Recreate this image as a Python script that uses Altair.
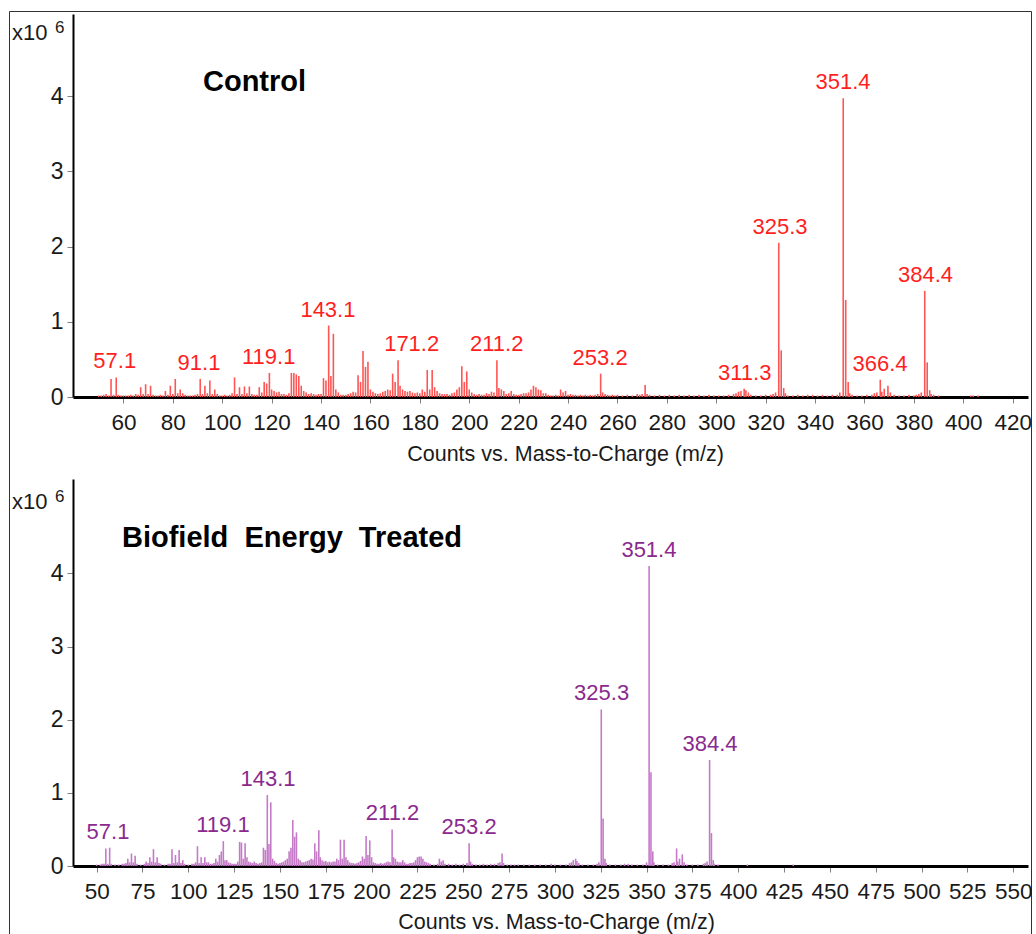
import altair as alt
import pandas as pd

# ---------------- data (intensities in units of 10^6 counts) ----------------
control_peaks = [
    (50, 0.02), (51, 0.02), (52, 0.03), (53, 0.04), (54, 0.02), (55, 0.24), (56, 0.03), (57.1, 0.26), (58, 0.03), (59, 0.02),
    (60, 0.02), (61, 0.02), (62, 0.02), (63, 0.03), (64, 0.02), (65, 0.04), (66, 0.03), (67, 0.13), (68, 0.04), (69, 0.17),
    (70, 0.04), (71, 0.15), (72, 0.03), (73, 0.02), (74, 0.02), (75, 0.03), (76, 0.02), (77, 0.08), (78, 0.03), (79, 0.15),
    (80, 0.04), (81, 0.24), (82, 0.05), (83, 0.10), (84, 0.05), (85, 0.03), (86, 0.02), (87, 0.02), (88, 0.02), (89, 0.03),
    (90, 0.04), (91.1, 0.24), (92, 0.04), (93, 0.15), (94, 0.05), (95, 0.22), (96, 0.04), (97, 0.10), (98, 0.04), (99, 0.02),
    (100, 0.02), (101, 0.03), (102, 0.02), (103, 0.03), (104, 0.05), (105, 0.26), (106, 0.04), (107, 0.13), (108, 0.04), (109, 0.14),
    (110, 0.05), (111, 0.14), (112, 0.04), (113, 0.03), (114, 0.03), (115, 0.13), (116, 0.06), (117, 0.20), (118, 0.18), (119.1, 0.32),
    (120, 0.10), (121, 0.08), (122, 0.06), (123, 0.07), (124, 0.04), (125, 0.04), (126, 0.03), (127, 0.05), (128, 0.32), (129, 0.32),
    (130, 0.30), (131, 0.28), (132, 0.15), (133, 0.08), (134, 0.06), (135, 0.04), (136, 0.05), (137, 0.04), (138, 0.03), (139, 0.04),
    (140, 0.04), (141, 0.25), (142, 0.22), (143.1, 0.95), (144, 0.28), (145, 0.84), (146, 0.10), (147, 0.06), (148, 0.03), (149, 0.03),
    (150, 0.03), (151, 0.04), (152, 0.05), (153, 0.07), (154, 0.06), (155, 0.29), (156, 0.20), (157, 0.61), (158, 0.40), (159, 0.47),
    (160, 0.10), (161, 0.07), (162, 0.05), (163, 0.04), (164, 0.05), (165, 0.07), (166, 0.08), (167, 0.10), (168, 0.09), (169, 0.31),
    (170, 0.20), (171.2, 0.49), (172, 0.15), (173, 0.10), (174, 0.08), (175, 0.07), (176, 0.08), (177, 0.06), (178, 0.05), (179, 0.06),
    (180, 0.05), (181, 0.10), (182, 0.07), (183, 0.36), (184, 0.10), (185, 0.36), (186, 0.13), (187, 0.08), (188, 0.05), (189, 0.04),
    (190, 0.04), (191, 0.04), (192, 0.03), (193, 0.05), (194, 0.06), (195, 0.10), (196, 0.13), (197, 0.41), (198, 0.20), (199, 0.34),
    (200, 0.10), (201, 0.06), (202, 0.04), (203, 0.03), (204, 0.04), (205, 0.03), (206, 0.03), (207, 0.05), (208, 0.04), (209, 0.07),
    (210, 0.06), (211.2, 0.49), (212, 0.12), (213, 0.10), (214, 0.08), (215, 0.04), (216, 0.05), (217, 0.08), (218, 0.04), (219, 0.03),
    (220, 0.03), (221, 0.04), (222, 0.05), (223, 0.05), (224, 0.06), (225, 0.10), (226, 0.15), (227, 0.13), (228, 0.10), (229, 0.09),
    (230, 0.05), (231, 0.05), (232, 0.03), (233, 0.02), (234, 0.02), (235, 0.03), (236, 0.02), (237, 0.10), (238, 0.06), (239, 0.08),
    (240, 0.03), (241, 0.04), (242, 0.03), (243, 0.03), (244, 0.02), (245, 0.03), (246, 0.02), (247, 0.03), (248, 0.02), (249, 0.03),
    (250, 0.02), (251, 0.03), (252, 0.04), (253.2, 0.31), (254, 0.06), (255, 0.04), (256, 0.03), (257, 0.02), (258, 0.03), (259, 0.02),
    (260, 0.03), (262, 0.02), (264, 0.03), (266, 0.02), (268, 0.04), (269, 0.03), (270, 0.04), (271.2, 0.16), (272, 0.04), (273, 0.03),
    (275, 0.02), (277, 0.03), (279, 0.02), (281, 0.03), (283, 0.02), (285, 0.03), (287, 0.02), (289, 0.03), (291, 0.02), (293, 0.03),
    (295, 0.02), (297, 0.03), (299, 0.02), (301, 0.02), (303, 0.02), (305, 0.03), (307, 0.04), (308, 0.05), (309, 0.07), (310, 0.08),
    (311.3, 0.11), (312, 0.09), (313, 0.06), (314, 0.03), (316, 0.02), (318, 0.02), (320, 0.03), (322, 0.03), (323, 0.04), (324, 0.06),
    (325.3, 2.05), (326.3, 0.62), (327.3, 0.12), (328, 0.05), (329, 0.02), (331, 0.02), (333, 0.03), (335, 0.02), (337, 0.03), (339, 0.03),
    (341, 0.02), (343, 0.03), (345, 0.02), (347, 0.03), (349, 0.03), (350, 0.06), (351.4, 3.97), (352.4, 1.29), (353.4, 0.20), (354, 0.05),
    (355, 0.03), (357, 0.02), (359, 0.02), (361, 0.03), (363, 0.03), (364, 0.05), (365, 0.06), (366.4, 0.23), (367, 0.07), (368, 0.11),
    (369.5, 0.15), (370.5, 0.06), (372, 0.03), (374, 0.02), (376, 0.02), (378, 0.03), (380, 0.02), (381, 0.03), (382, 0.04), (383, 0.06),
    (384.4, 1.41), (385.4, 0.46), (386.4, 0.09), (387, 0.04), (388, 0.03), (390, 0.02), (403, 0.02), (404, 0.02), (406, 0.02),
]

treated_peaks = [
    (50, 0.02), (52, 0.02), (53, 0.03), (54, 0.03), (55, 0.24), (56, 0.03), (57.1, 0.25), (58, 0.03), (60, 0.02), (62, 0.02),
    (64, 0.03), (65, 0.03), (66, 0.04), (67, 0.10), (68, 0.05), (69, 0.17), (70, 0.05), (71, 0.14), (72, 0.03), (74, 0.02),
    (76, 0.03), (77, 0.06), (78, 0.04), (79, 0.12), (80, 0.06), (81, 0.23), (82, 0.05), (83, 0.12), (84, 0.04), (85, 0.03),
    (87, 0.02), (89, 0.03), (90, 0.03), (91.1, 0.23), (92, 0.04), (93, 0.15), (94, 0.05), (95, 0.22), (96, 0.04), (97, 0.08),
    (98, 0.03), (100, 0.02), (102, 0.03), (103, 0.03), (104, 0.05), (105, 0.27), (106, 0.04), (107, 0.12), (108, 0.04), (109, 0.12),
    (110, 0.05), (111, 0.05), (112, 0.03), (113, 0.03), (114, 0.04), (115, 0.10), (116, 0.06), (117, 0.15), (118, 0.20), (119.1, 0.34),
    (120, 0.08), (121, 0.08), (122, 0.05), (123, 0.04), (124, 0.03), (125, 0.03), (126, 0.03), (127, 0.06), (128, 0.33), (129, 0.32),
    (130, 0.10), (131, 0.31), (132, 0.12), (133, 0.06), (134, 0.05), (135, 0.04), (136, 0.06), (137, 0.04), (138, 0.03), (139, 0.04),
    (140, 0.05), (141, 0.25), (142, 0.22), (143.1, 0.97), (144, 0.30), (145, 0.87), (146, 0.10), (147, 0.07), (148, 0.04), (149, 0.03),
    (150, 0.04), (151, 0.05), (152, 0.06), (153, 0.08), (154, 0.10), (155, 0.20), (156, 0.25), (157, 0.63), (158, 0.40), (159, 0.46),
    (160, 0.10), (161, 0.08), (162, 0.05), (163, 0.05), (164, 0.06), (165, 0.07), (166, 0.08), (167, 0.10), (168, 0.09), (169, 0.31),
    (170, 0.20), (171.2, 0.49), (172, 0.12), (173, 0.08), (174, 0.06), (175, 0.07), (176, 0.05), (177, 0.06), (178, 0.05), (179, 0.06),
    (180, 0.06), (181, 0.10), (182, 0.08), (183, 0.36), (184, 0.10), (185, 0.36), (186, 0.12), (187, 0.08), (188, 0.05), (189, 0.04),
    (190, 0.04), (191, 0.03), (192, 0.04), (193, 0.05), (194, 0.07), (195, 0.13), (196, 0.10), (197, 0.41), (198, 0.15), (199, 0.35),
    (200, 0.12), (201, 0.05), (202, 0.04), (203, 0.03), (204, 0.03), (205, 0.04), (206, 0.03), (207, 0.04), (208, 0.05), (209, 0.06),
    (210, 0.05), (211.2, 0.50), (212, 0.12), (213, 0.10), (214, 0.06), (215, 0.05), (216, 0.05), (217, 0.08), (218, 0.05), (219, 0.03),
    (220, 0.03), (221, 0.04), (222, 0.04), (223, 0.05), (224, 0.08), (225, 0.12), (226, 0.13), (227, 0.13), (228, 0.10), (229, 0.06),
    (230, 0.05), (231, 0.04), (232, 0.03), (234, 0.02), (236, 0.03), (237, 0.10), (238, 0.06), (239, 0.08), (240, 0.03), (242, 0.03),
    (244, 0.02), (246, 0.03), (248, 0.02), (250, 0.03), (252, 0.04), (253.2, 0.31), (254, 0.06), (255, 0.03), (257, 0.02), (259, 0.02),
    (261, 0.03), (263, 0.02), (265, 0.03), (267, 0.03), (269, 0.04), (270, 0.05), (271.2, 0.17), (272, 0.04), (274, 0.02), (276, 0.02),
    (278, 0.02), (280, 0.02), (283, 0.02), (286, 0.02), (289, 0.02), (292, 0.02), (295, 0.02), (298, 0.03), (300, 0.02), (303, 0.02),
    (306, 0.02), (308, 0.04), (309, 0.05), (310, 0.08), (311.3, 0.10), (312, 0.07), (313, 0.04), (315, 0.02), (318, 0.02), (321, 0.02),
    (323, 0.03), (324, 0.05), (325.3, 2.14), (326.3, 0.65), (327.3, 0.10), (328, 0.04), (330, 0.02), (333, 0.02), (336, 0.02), (338, 0.03),
    (340, 0.03), (342, 0.02), (345, 0.02), (348, 0.02), (350, 0.05), (351.4, 4.10), (352.4, 1.28), (353.4, 0.20), (354, 0.05), (356, 0.02),
    (359, 0.02), (362, 0.02), (364, 0.04), (365, 0.05), (366.4, 0.24), (367, 0.06), (368, 0.10), (369.5, 0.16), (370.5, 0.05), (372, 0.02),
    (375, 0.02), (378, 0.02), (381, 0.03), (382, 0.04), (383, 0.06), (384.4, 1.45), (385.4, 0.45), (386.4, 0.08), (387, 0.03), (389, 0.02),
    (405, 0.02), (430, 0.02),
]

# peak labels: text, label centre (m/z), intensity of the labelled peak
control_label_text = ["57.1", "91.1", "119.1", "143.1", "171.2", "211.2", "253.2", "311.3", "325.3", "351.4", "366.4", "384.4"]
control_label_mz = [56.5, 90.6, 118.8, 142.8, 176.7, 211.1, 253.0, 311.5, 325.8, 351.3, 366.3, 384.7]
control_label_int = [0.26, 0.24, 0.32, 0.95, 0.49, 0.49, 0.31, 0.11, 2.05, 3.97, 0.23, 1.41]

treated_label_text = ["57.1", "119.1", "143.1", "211.2", "253.2", "325.3", "351.4", "384.4"]
treated_label_mz = [56.2, 118.9, 143.5, 211.4, 253.2, 325.5, 351.3, 384.6]
treated_label_int = [0.25, 0.34, 0.97, 0.50, 0.31, 2.14, 4.10, 1.45]

control_xticks = list(range(60, 421, 20))
treated_xticks = list(range(50, 551, 25))
y_ticks = [0, 1, 2, 3, 4]

FONT = "Liberation Sans Narrow, Arial Narrow, Liberation Sans, Arial, sans-serif"
BOLD = "Liberation Sans, Arial, sans-serif"
TXT = "#1a1a1a"
FS = 22.5
ONE = alt.Data(values=[{}])
W = 955
H_TOP, H_BOT = 383, 387


def panel(peaks, ltext, lmz, lint, xdom, ydom, xticks, H, stick_c, label_c,
          title, title_x, title_y, x10_y, axis_title_x, axis_title_y, frame):
    df = pd.DataFrame(peaks, columns=["mz", "inten"])
    lab = pd.DataFrame({"lx": lmz, "ly": lint, "t": ltext})
    xs = alt.Scale(domain=xdom, nice=False, zero=False)
    ys = alt.Scale(domain=ydom, nice=False)
    xaxis = alt.Axis(values=xticks, grid=False, title="Counts vs. Mass-to-Charge (m/z)",
                     domainColor="black", domainWidth=3, tickColor="#808080", tickSize=6,
                     tickWidth=1, labelFont=FONT, labelFontSize=FS, labelColor=TXT,
                     labelPadding=8, labelFlush=False, labelOverlap=False,
                     titleFont=FONT, titleFontSize=21.5,
                     titleFontWeight="normal", titleColor=TXT, titleX=axis_title_x,
                     titleY=axis_title_y, titleAlign="center", titleBaseline="alphabetic")
    yaxis = alt.Axis(values=y_ticks, grid=False, title=None, format="d",
                     domainColor="black", domainWidth=2, tickColor="#808080", tickSize=6,
                     tickWidth=1, labelFont=FONT, labelFontSize=FS + 0.5, labelColor=TXT,
                     labelPadding=4, labelFlush=False)
    sticks = alt.Chart(df).mark_rule(color=stick_c, strokeWidth=1.6).encode(
        x=alt.X("mz:Q", scale=xs, axis=xaxis),
        y=alt.Y("inten:Q", scale=ys, axis=yaxis),
        y2=alt.datum(0),
    )
    labels = alt.Chart(lab).mark_text(color=label_c, font=FONT, fontSize=22,
                                      baseline="alphabetic", align="center", dy=-9).encode(
        x=alt.X("lx:Q", scale=xs, axis=xaxis),
        y=alt.Y("ly:Q", scale=ys, axis=yaxis),
        text="t:N",
    )
    ttl = alt.Chart(ONE).mark_text(text=title, font=BOLD, fontSize=29, fontWeight="bold",
                                   color="black", align="left", baseline="alphabetic").encode(
        x=alt.value(title_x), y=alt.value(title_y))
    x10 = alt.Chart(ONE).mark_text(text="x10", font=FONT, fontSize=22, color=TXT,
                                   align="left", baseline="alphabetic").encode(
        x=alt.value(-61), y=alt.value(x10_y))
    six = alt.Chart(ONE).mark_text(text="6", font=FONT, fontSize=17, color=TXT,
                                   align="left", baseline="alphabetic").encode(
        x=alt.value(-18), y=alt.value(x10_y - 7))
    layers = [sticks, labels, ttl, x10, six]
    if frame:
        # outer frame of the whole figure (top, left, right edges)
        layers.append(alt.Chart(ONE).mark_rule(color="#333333", strokeWidth=1).encode(
            x=alt.value(-63.5), y=alt.value(-2.5), y2=alt.value(925)))
        layers.append(alt.Chart(ONE).mark_rule(color="#333333", strokeWidth=1).encode(
            x=alt.value(W + 3.5), y=alt.value(-2.5), y2=alt.value(925)))
        layers.append(alt.Chart(ONE).mark_rule(color="#333333", strokeWidth=1).encode(
            x=alt.value(-63.5), x2=alt.value(W + 3.5), y=alt.value(-2.5)))
    return alt.layer(*layers).properties(width=W, height=H)


top = panel(control_peaks, control_label_text, control_label_mz, control_label_int,
            [39.6, 426.2], [0, 5.09], control_xticks, H_TOP, "#ff5555", "#ff1f1f",
            "Control", 130, 77, 26, 492, 63, True)
bottom = panel(treated_peaks, treated_label_text, treated_label_mz, treated_label_int,
               [37.1, 558.1], [0, 5.29], treated_xticks, H_BOT, "#c57ac8", "#8b2a8e",
               "Biofield\u00a0 Energy\u00a0 Treated", 49, 68, 30, 483, 62, False)

chart = alt.vconcat(top, bottom, spacing=82, bounds="flush").properties(
    padding={"left": 9, "top": 11, "right": 0, "bottom": 0},
    background="white",
).configure_view(stroke=None)

chart.save("out.html", embed_options={"renderer": "svg", "actions": False})
